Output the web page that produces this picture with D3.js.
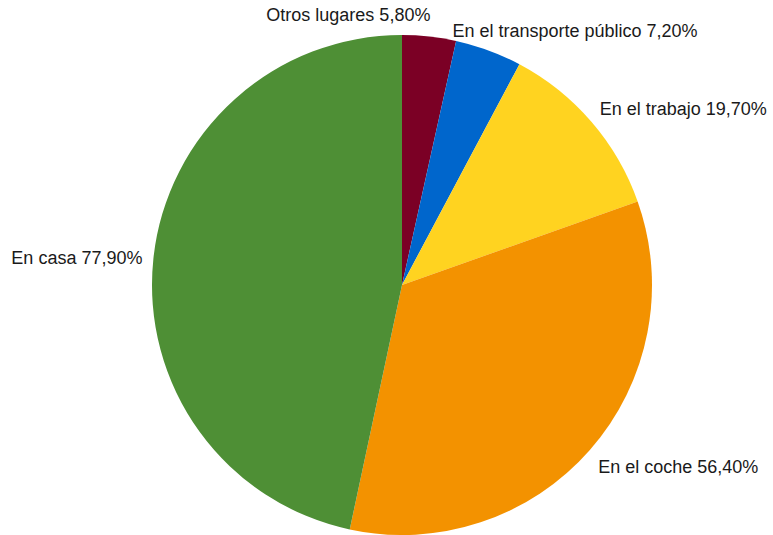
<!DOCTYPE html>
<html>
  <head>
    <meta charset="utf-8">
    <style>
      body { margin:0; background:#fff; }
      text {
        font-family: "Liberation Sans", Arial, sans-serif;
        font-size: 18px;
        fill: #1a1a1a;
        dominant-baseline: middle;
      }
    </style>
    <script src="https://d3js.org/d3.v7.min.js"></script>
  </head>
  <body>
    <script>
      const categories = ['Otros lugares', 'En el transporte público', 'En el trabajo', 'En el coche', 'En casa']
      const values = [5.8, 7.2, 19.7, 56.4, 77.9]
      const colors = ['#7b0025', '#0066cc', '#ffd320', '#f39200', '#4e8f35']

      const W = 773, H = 535
      const cx = 402, cy = 285, R = 250
      // labels near the top get pushed sideways so they don't collide
      const labelNudge = { 'En el transporte público': -40 }

      const svg = d3.select('body').append('svg')
        .attr('width', W)
        .attr('height', H)

      const data = categories.map((c, i) => ({ name: c, value: values[i], color: colors[i] }))

      const pie = d3.pie().value(d => d.value).sort(null)
      const arc = d3.arc().innerRadius(0).outerRadius(R)
      const fmt = v => d3.format('.2f')(v).replace('.', ',') + '%'

      const g = svg.append('g').attr('transform', `translate(${cx},${cy})`)
      const arcs = pie(data)

      g.selectAll('path')
        .data(arcs)
        .join('path')
        .attr('d', arc)
        .attr('fill', d => d.data.color)

      g.selectAll('text')
        .data(arcs)
        .join('text')
        .attr('x', d => {
          const a = (d.startAngle + d.endAngle) / 2
          return (R + 11) * Math.sin(a) + (labelNudge[d.data.name] || 0)
        })
        .attr('y', d => {
          const a = (d.startAngle + d.endAngle) / 2
          return -(R + 23) * Math.cos(a) + 3
        })
        .attr('text-anchor', d => {
          const a = (d.startAngle + d.endAngle) / 2
          return Math.sin(a) > 0.2 ? 'start' : 'end'
        })
        .text(d => `${d.data.name} ${fmt(d.data.value)}`)
    </script>
  </body>
</html>
